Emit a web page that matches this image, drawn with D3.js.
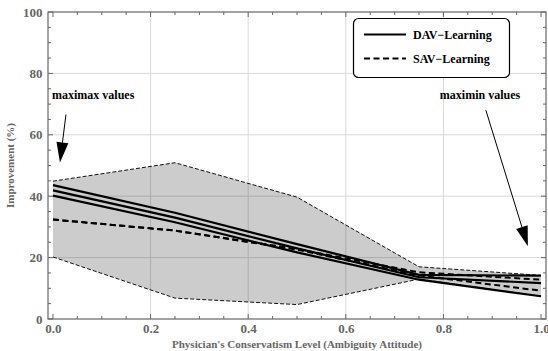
<!DOCTYPE html>
<html>
<head>
<meta charset="utf-8">
<title>Improvement vs conservatism level</title>
<script src="https://cdn.jsdelivr.net/npm/d3@7"></script>
<style>
  body { margin: 0; background: #fff; }
  text { font-family: "Liberation Serif", "DejaVu Serif", serif; font-weight: bold; }
</style>
</head>
<body>
<script>
// conservatism levels
var levels = [0, 0.25, 0.5, 0.75, 1.0];

// DAV-Learning (three solid lines)
var davHigh = [43.6, 34.6, 24.4, 14.4, 14.1];
var davMid  = [41.9, 33.0, 23.0, 13.6, 11.7];
var davLow  = [40.2, 31.5, 21.7, 12.8, 7.4];

// SAV-Learning (dashed lines + min/max band)
var savMean  = [32.4, 28.8, 22.8, 15.2, 12.8];
var savInner = [32.4, 28.8, 22.6, 14.2, 9.2];
var savMax   = [44.9, 50.9, 39.7, 17.0, 14.2];
var savMin   = [20.2, 6.8, 4.7, 13.0, 7.4];

var xTicks = [0, 0.2, 0.4, 0.6, 0.8, 1.0];
var yTicks = [0, 20, 40, 60, 80, 100];
var legendNames = ["DAV\u2212Learning", "SAV\u2212Learning"];

var W = 548, H = 351;
var svg = d3.select("body").append("svg").attr("width", W).attr("height", H);

var x = d3.scaleLinear().domain([-0.0102, 1.0102]).range([48, 546]);
var y = d3.scaleLinear().domain([0, 100]).range([319, 12]);

var frameCol = "#666";

// grid
svg.append("g").selectAll("line").data([0.2, 0.4, 0.6, 0.8]).enter().append("line")
  .attr("x1", d => x(d)).attr("x2", d => x(d)).attr("y1", y(0)).attr("y2", y(100))
  .attr("stroke", "#d9d9d9").attr("stroke-width", 1);
svg.append("g").selectAll("line").data([20, 40, 60, 80]).enter().append("line")
  .attr("y1", d => y(d)).attr("y2", d => y(d)).attr("x1", x.range()[0]).attr("x2", x.range()[1])
  .attr("stroke", "#d9d9d9").attr("stroke-width", 1);

// band
var area = d3.area().x((d, i) => x(levels[i])).y0((d, i) => y(savMin[i])).y1(d => y(d));
svg.append("path").datum(savMax).attr("d", area).attr("fill", "#000").attr("fill-opacity", 0.2);

var line = d3.line().x((d, i) => x(levels[i])).y(d => y(d));
[savMax, savMin].forEach(function (s) {
  svg.append("path").datum(s).attr("d", line).attr("fill", "none")
    .attr("stroke", "#111").attr("stroke-width", 1).attr("stroke-dasharray", "4,2");
});
[savInner, savMean].forEach(function (s) {
  svg.append("path").datum(s).attr("d", line).attr("fill", "none")
    .attr("stroke", "#000").attr("stroke-width", 2).attr("stroke-dasharray", "6,3.5");
});
[davHigh, davMid, davLow].forEach(function (s) {
  svg.append("path").datum(s).attr("d", line).attr("fill", "none")
    .attr("stroke", "#000").attr("stroke-width", 2.2);
});

// frame with ticks on all sides
var ax = d3.axisBottom(x).tickValues(xTicks).tickSize(0).tickFormat(d3.format(".1f"));
var axisB = svg.append("g").attr("transform", "translate(0," + y(0) + ")").call(ax);
axisB.select(".domain").remove();
axisB.selectAll("text").attr("y", 5).attr("dy", "0.71em").attr("fill", frameCol).style("font-size", "13px")
  .style("font-family", "Liberation Serif");
var ay = d3.axisLeft(y).tickValues(yTicks).tickSize(0);
var axisL = svg.append("g").attr("transform", "translate(" + x.range()[0] + ",0)").call(ay);
axisL.select(".domain").remove();
axisL.selectAll("text").attr("dx", "-0.2em").attr("fill", frameCol).style("font-size", "13px")
  .style("font-family", "Liberation Serif");

svg.append("rect").attr("x", x.range()[0]).attr("y", y(100))
  .attr("width", x.range()[1] - x.range()[0]).attr("height", y(0) - y(100))
  .attr("fill", "none").attr("stroke", frameCol).attr("stroke-width", 1.2);

var tg = svg.append("g").attr("stroke", frameCol).attr("stroke-width", 1);
d3.range(0, 1.0001, 0.05).forEach(function (v) {
  var major = Math.abs(v * 5 - Math.round(v * 5)) < 1e-6;
  var len = major ? 5 : 3;
  tg.append("line").attr("x1", x(v)).attr("x2", x(v)).attr("y1", y(0)).attr("y2", y(0) - len);
  tg.append("line").attr("x1", x(v)).attr("x2", x(v)).attr("y1", y(100)).attr("y2", y(100) + len);
});
d3.range(0, 100.1, 5).forEach(function (v) {
  var len = v % 20 === 0 ? 5 : 3;
  tg.append("line").attr("y1", y(v)).attr("y2", y(v)).attr("x1", x.range()[0]).attr("x2", x.range()[0] + len);
  tg.append("line").attr("y1", y(v)).attr("y2", y(v)).attr("x1", x.range()[1]).attr("x2", x.range()[1] - len);
});

// axis titles
svg.append("text").attr("x", 297).attr("y", 348).attr("text-anchor", "middle")
  .attr("fill", frameCol).style("font-size", "11px")
  .text("Physician's Conservatism Level (Ambiguity Attitude)");
svg.append("text").attr("transform", "translate(14," + y(50) + ") rotate(-90)")
  .attr("text-anchor", "middle").attr("fill", frameCol).style("font-size", "11px")
  .text("Improvement (%)");

// annotations
function arrow(x1, y1, x2, y2) {
  var px1 = x(x1), py1 = y(y1), px2 = x(x2), py2 = y(y2);
  var a = Math.atan2(py2 - py1, px2 - px1);
  var L = 20, hw = 6;
  var bx = px2 - L * Math.cos(a), by = py2 - L * Math.sin(a);
  svg.append("line").attr("x1", px1).attr("y1", py1).attr("x2", bx).attr("y2", by)
    .attr("stroke", "#000").attr("stroke-width", 1);
  svg.append("path").attr("fill", "#000").attr("d",
    "M" + px2 + "," + py2 +
    "L" + (bx + hw * Math.sin(a)) + "," + (by - hw * Math.cos(a)) +
    "L" + (bx - hw * Math.sin(a)) + "," + (by + hw * Math.cos(a)) + "Z");
}
svg.append("text").attr("x", x(-0.002)).attr("y", y(71.5)).style("font-size", "12px").text("maximax values");
arrow(0.0266, 66.6, 0.0143, 51);
svg.append("text").attr("x", x(0.875)).attr("y", y(71.5)).attr("text-anchor", "middle")
  .style("font-size", "12px").text("maximin values");
arrow(0.887, 68, 0.973, 23.7);

// legend
var lg = svg.append("g");
lg.append("rect").attr("x", 353.5).attr("y", 18.5).attr("width", 156).attr("height", 59)
  .attr("rx", 5).attr("fill", "#fff").attr("stroke", "#000").attr("stroke-width", 1.2);
legendNames.forEach(function (n, i) {
  var ly = 34.5 + i * 24;
  lg.append("line").attr("x1", 364).attr("x2", 406).attr("y1", ly).attr("y2", ly)
    .attr("stroke", "#000").attr("stroke-width", 2)
    .attr("stroke-dasharray", i === 1 ? "6,3.5" : null);
  lg.append("text").attr("x", 413).attr("y", ly + 4).style("font-size", "12px").text(n);
});
</script>
</body>
</html>
